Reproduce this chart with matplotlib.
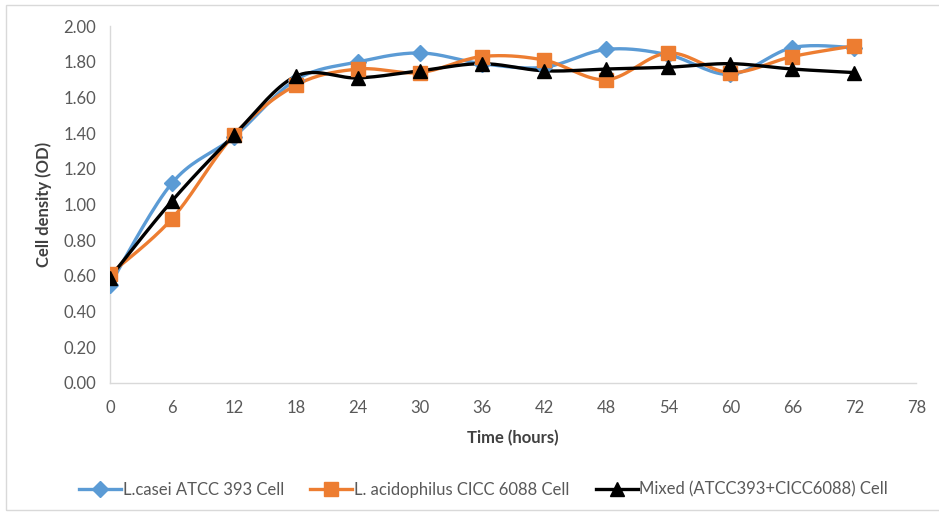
import numpy as np
import matplotlib.pyplot as plt
from matplotlib.lines import Line2D
from matplotlib.patches import Rectangle

plt.rcParams['font.family'] = ['Lato', 'DejaVu Sans']

hours = [0, 6, 12, 18, 24, 30, 36, 42, 48, 54, 60, 66, 72]
casei = [0.55, 1.12, 1.38, 1.70, 1.80, 1.85, 1.79, 1.77, 1.87, 1.84, 1.73, 1.88, 1.88]
acidophilus = [0.61, 0.92, 1.39, 1.67, 1.76, 1.74, 1.83, 1.81, 1.70, 1.85, 1.74, 1.83, 1.89]
mixed = [0.59, 1.02, 1.39, 1.72, 1.71, 1.75, 1.79, 1.75, 1.76, 1.77, 1.79, 1.76, 1.74]

names = ['L.casei ATCC 393 Cell', 'L. acidophilus CICC 6088 Cell',
         'Mixed (ATCC393+CICC6088) Cell']
colors = ['#5B9BD5', '#ED7D31', '#000000']
markers = ['D', 's', '^']
msizes = [8, 10, 10]


def smooth(x, y, n=20):
    """Catmull-Rom curve through the points, like a smoothed office line."""
    x = np.asarray(x, float)
    y = np.asarray(y, float)
    px = np.concatenate([[x[0]], x, [x[-1]]])
    py = np.concatenate([[y[0]], y, [y[-1]]])
    xs, ys = [], []
    t = np.linspace(0, 1, n)
    for i in range(1, len(px) - 2):
        for p, out in ((px, xs), (py, ys)):
            p0, p1, p2, p3 = p[i - 1], p[i], p[i + 1], p[i + 2]
            c1 = p1 + (p2 - p0) / 6
            c2 = p2 - (p3 - p1) / 6
            out.extend((1 - t) ** 3 * p1 + 3 * (1 - t) ** 2 * t * c1
                       + 3 * (1 - t) * t ** 2 * c2 + t ** 3 * p2)
    return xs, ys


fig = plt.figure(figsize=(9.39, 5.14), dpi=100)
ax = fig.add_axes([0.117, 0.255, 0.859, 0.694])

for vals, col, mk, ms in zip([casei, acidophilus, mixed], colors, markers, msizes):
    sx, sy = smooth(hours, vals)
    ax.plot(sx, sy, color=col, lw=2.4, solid_capstyle='round', zorder=2)
    ax.plot(hours, vals, ls='none', marker=mk, ms=ms, color=col, zorder=3)

ax.set_xlim(0, 78)
ax.set_ylim(0, 2.0)
ax.set_xticks(range(0, 79, 6))
ax.set_yticks(np.arange(0, 2.01, 0.2))
ax.set_yticklabels(['%.2f' % v for v in np.arange(0, 2.01, 0.2)])
ax.tick_params(length=0, labelsize=12, labelcolor='#595959')
ax.tick_params(axis='y', pad=10)
ax.tick_params(axis='x', pad=12)

for side in ['top', 'right']:
    ax.spines[side].set_visible(False)
for side in ['left', 'bottom']:
    ax.spines[side].set_color('#d9d9d9')
    ax.spines[side].set_linewidth(1.0)

ax.set_xlabel('Time (hours)', fontsize=12, fontweight='bold', color='#404040', labelpad=10)
ax.set_ylabel('Cell density (OD)', fontsize=12, fontweight='bold', color='#404040', labelpad=8)

handles = [Line2D([], [], color=c, lw=2.4, marker=m, ms=s)
           for c, m, s in zip(colors, markers, msizes)]
fig.legend(handles, names, loc='center', bbox_to_anchor=(0.515, 0.047), ncol=3,
           frameon=False, fontsize=12, labelcolor='#595959', handlelength=2.5,
           handletextpad=0.1, columnspacing=1.6)

# light chart border
fig.patches.append(Rectangle((0.006, 0.008), 1.2, 0.982, transform=fig.transFigure,
                             fill=False, edgecolor='#d9d9d9', lw=1.0))

fig.savefig('out.png', dpi=100)
